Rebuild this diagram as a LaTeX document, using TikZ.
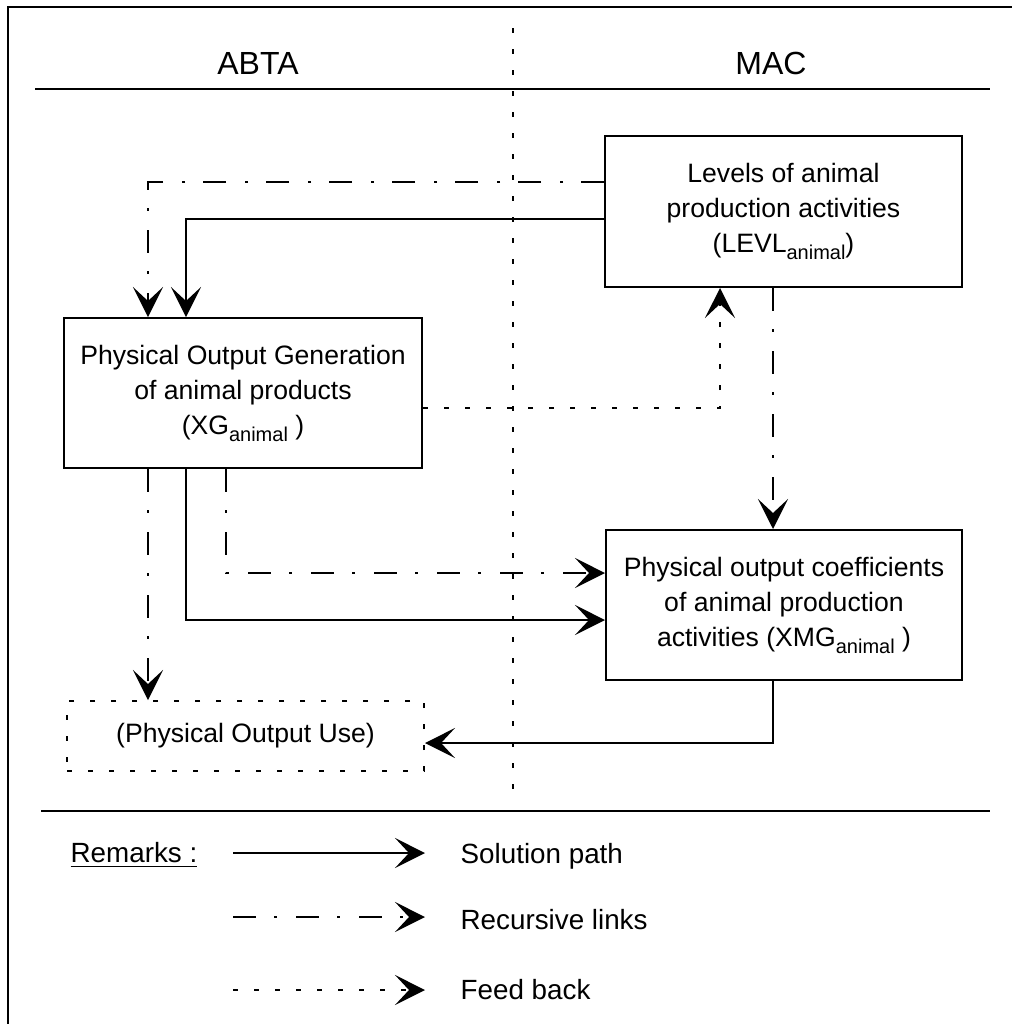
\documentclass[tikz,border=0pt]{standalone}
\usepackage{fontspec}
\setmainfont{Liberation Sans}
\usetikzlibrary{arrows.meta}
% lowered, smaller index text
\newcommand\idx[1]{\raisebox{-3.5pt}{\fontsize{10}{10}\selectfont #1}}

\begin{document}
\begin{tikzpicture}[x=0.5pt,y=-0.5pt,line width=1pt,
  box/.style={draw,rectangle,align=center,inner sep=0pt,
    font=\fontsize{13.3}{17.5}\selectfont},
  head/.style={font=\fontsize{16}{18}\selectfont},
  legtext/.style={anchor=west,font=\fontsize{13.9}{16}\selectfont},
  dashdot/.style={dash pattern=on 11.5pt off 9pt on 1.5pt off 9.5pt},
  fb/.style={dash pattern=on 2.5pt off 8pt},
  arr/.style={-{Stealth[length=15pt,width=15pt,inset=7pt]}}]

\useasboundingbox (0,0) rectangle (1012,1024);

% frame and section rules
\draw (8,1024) -- (8,7) -- (1012,7);
\draw (35,89) -- (990,89);
\draw (41,811) -- (990,811);
\draw[fb] (513,28) -- (513,795);

% column headings
\node[head] (abta) at (258,63) {ABTA};
\node[head] (mac) at (771,63) {MAC};

% blocks
\node[box,minimum width=178.5pt,minimum height=75.5pt] (levl) at (783.5,211.5)
  {Levels of animal\\production activities\\(LEVL\idx{animal})};
\node[box,minimum width=179pt,minimum height=75pt] (xg) at (243,393)
  {Physical Output Generation\\of animal products\\(XG\idx{animal} )};
\node[box,minimum width=178pt,minimum height=75pt] (xmg) at (784,605)
  {Physical output coefficients\\of animal production\\activities (XMG\idx{animal} )};
\node[box,fb,minimum width=178.5pt,minimum height=35pt] (use) at (245.5,736)
  {(Physical Output Use)};

% links from the activity levels back to output generation
\draw[dashdot,arr] ([yshift=14.75pt]levl.west) -| ([xshift=-47.5pt]xg.north);
\draw[arr] ([yshift=-3.75pt]levl.west) -| ([xshift=-28.5pt]xg.north);

% feedback from output generation to activity levels
\draw[fb,arr] ([yshift=-7.5pt]xg.east) -| ([xshift=-31.75pt]levl.south);

% activity levels to output coefficients
\draw[dashdot,arr] ([xshift=-5.25pt]levl.south) -- ([xshift=-5.25pt]levl.south |- xmg.north);

% output generation to output use and coefficients
\draw[dashdot,arr] ([xshift=-47.5pt]xg.south) -- ([xshift=-47.5pt]xg.south |- use.north);
\draw[arr] ([xshift=-28.5pt]xg.south) |- ([yshift=-7.5pt]xmg.west);
\draw[dashdot,arr] ([xshift=-8.5pt]xg.south) |- ([yshift=16pt]xmg.west);

% coefficients to output use
\draw[arr] ([xshift=-5.5pt]xmg.south) |- ([yshift=-3.5pt]use.east);

% legend
\node[legtext] (rem) at (63,855) {\underline{Remarks :}};
\coordinate (la1) at (233,853); \coordinate (lb1) at (425,853);
\coordinate (la2) at (233,917); \coordinate (lb2) at (425,917);
\coordinate (la3) at (233,990); \coordinate (lb3) at (425,990);
\draw[arr] (la1) -- (lb1);
\draw[dashdot,arr] (la2) -- (lb2);
\draw[fb,arr] (la3) -- (lb3);
\node[legtext] (t1) at (453,856) {Solution path};
\node[legtext] (t2) at (453,920) {Recursive links};
\node[legtext] (t3) at (453,990) {Feed back};

\end{tikzpicture}
\end{document}
